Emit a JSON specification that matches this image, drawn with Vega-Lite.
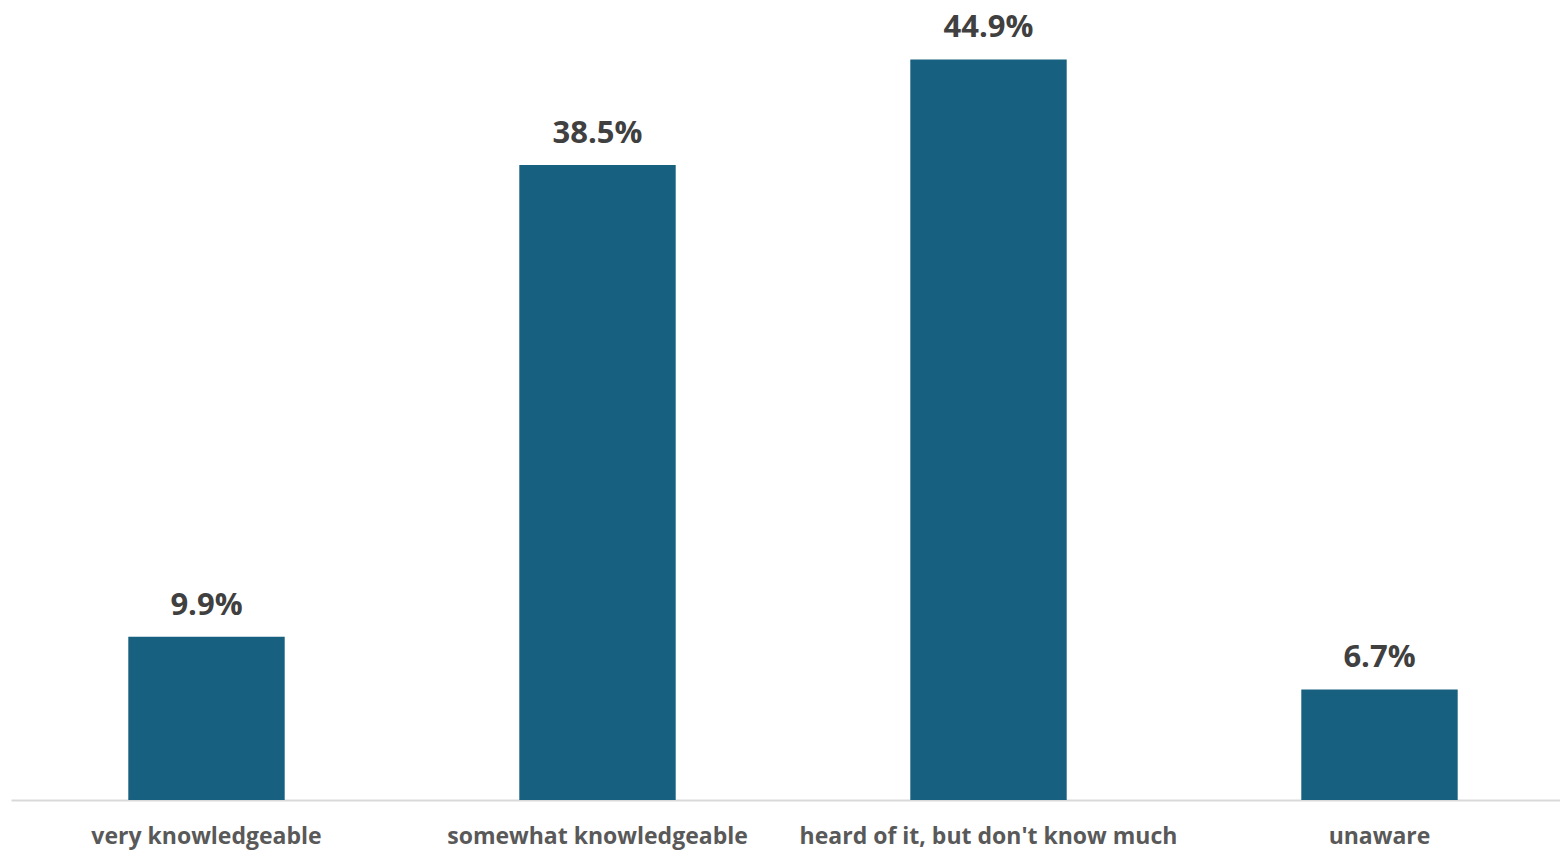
{
  "$schema": "https://vega.github.io/schema/vega-lite/v6.json",
  "width": 1564,
  "height": 800,
  "padding": {"left": 11, "top": 0, "right": 0, "bottom": 55},
  "autosize": {"type": "none"},
  "background": "white",
  "config": {"view": {"stroke": null}, "font": "Open Sans"},
  "data": {"values": [
    {"category": "very knowledgeable", "pct": 0.099},
    {"category": "somewhat knowledgeable", "pct": 0.385},
    {"category": "heard of it, but don't know much", "pct": 0.449},
    {"category": "unaware", "pct": 0.067}
  ]},
  "encoding": {
    "x": {
      "field": "category", "type": "nominal", "sort": null,
      "scale": {"paddingInner": 0.6, "paddingOuter": 0.3},
      "axis": {
        "title": null, "labelAngle": 0, "ticks": false, "domainColor": "#d9d9d9", "domainWidth": 2,
        "labelFont": "Open Sans", "labelFontWeight": "bold", "labelFontSize": 23, "labelColor": "#595959",
        "labelPadding": 25, "labelLimit": 0
      }
    },
    "y": {"field": "pct", "type": "quantitative", "scale": {"domain": [0, 0.485]}, "axis": null}
  },
  "layer": [
    {"mark": {"type": "bar", "color": "#17607f"}},
    {"mark": {"type": "text", "baseline": "alphabetic", "dy": -22, "fontSize": 31, "fontWeight": "bold", "color": "#404040", "font": "Open Sans"},
     "encoding": {"text": {"field": "pct", "type": "quantitative", "format": ".1%"}}}
  ]
}
